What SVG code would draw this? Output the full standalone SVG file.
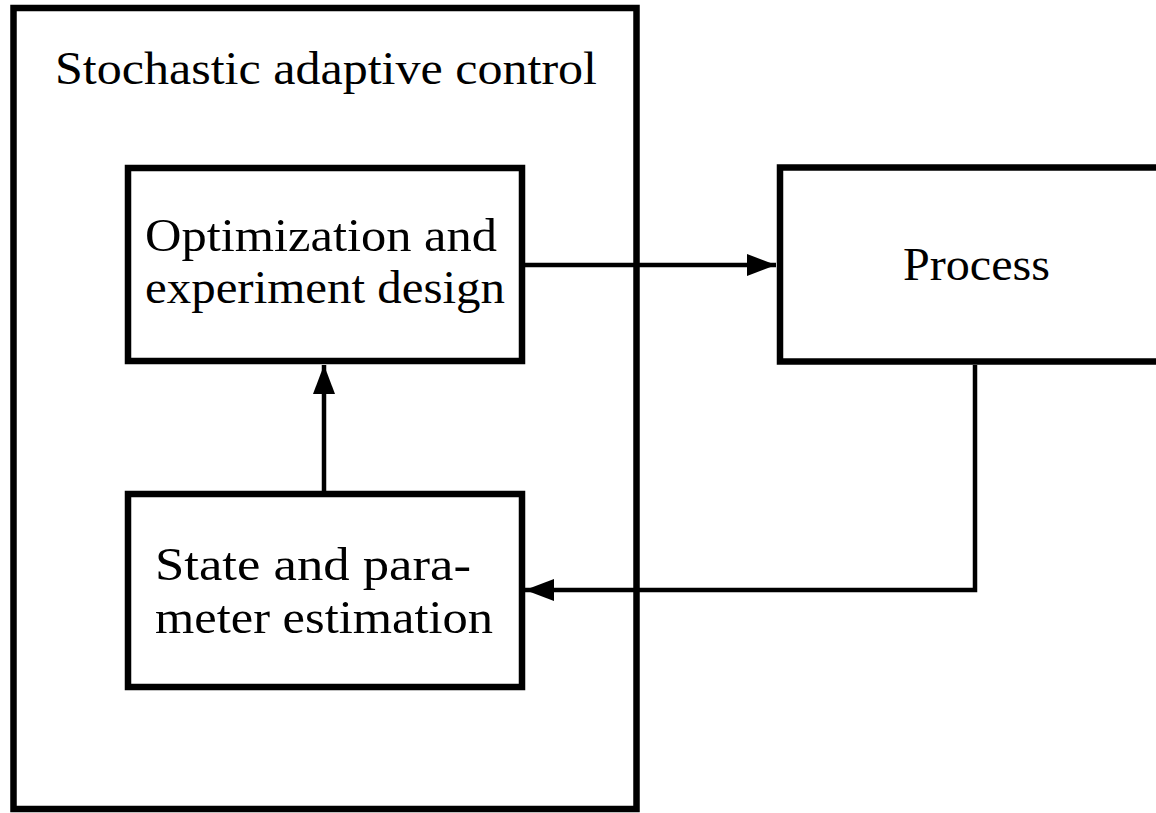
<svg xmlns="http://www.w3.org/2000/svg" width="1156" height="813" viewBox="0 0 1156 813">
<style>
.box{fill:none;stroke:#000;stroke-width:6.5}
.lbl{font-family:"Liberation Serif","DejaVu Serif",serif;font-size:46px;fill:#000}
.conn{fill:none;stroke:#000;stroke-width:4.5}
</style>
<defs>
<marker id="ah" markerUnits="userSpaceOnUse" markerWidth="30" markerHeight="22" refX="29" refY="11" orient="auto">
<path d="M0,0 L29,11 L0,22 Z" fill="#000"/>
</marker>
</defs>
<rect width="1156" height="813" fill="#fff"/>
<g id="outer">
<rect class="box" x="13.5" y="8" width="623" height="801"/>
<text class="lbl" x="55" y="84" textLength="542" lengthAdjust="spacingAndGlyphs">Stochastic adaptive control</text>
</g>
<g id="optimization">
<rect class="box" x="128" y="168" width="394" height="193"/>
<text class="lbl" x="145" y="251" textLength="352" lengthAdjust="spacingAndGlyphs">Optimization and</text>
<text class="lbl" x="145" y="303" textLength="360" lengthAdjust="spacingAndGlyphs">experiment design</text>
</g>
<g id="estimation">
<rect class="box" x="128" y="494" width="394" height="193"/>
<text class="lbl" x="155" y="580" textLength="316" lengthAdjust="spacingAndGlyphs">State and para-</text>
<text class="lbl" x="155" y="633" textLength="338" lengthAdjust="spacingAndGlyphs">meter estimation</text>
</g>
<g id="process">
<rect class="box" x="780" y="167.5" width="420" height="194"/>
<text class="lbl" x="903" y="280" textLength="147" lengthAdjust="spacingAndGlyphs">Process</text>
</g>
<g id="connectors">
<path class="conn" d="M525,265 L776,265" marker-end="url(#ah)"/>
<path class="conn" d="M324,491 L324,365" marker-end="url(#ah)"/>
<path class="conn" d="M975,365 L975,590 L525,590" marker-end="url(#ah)"/>
</g>
</svg>
